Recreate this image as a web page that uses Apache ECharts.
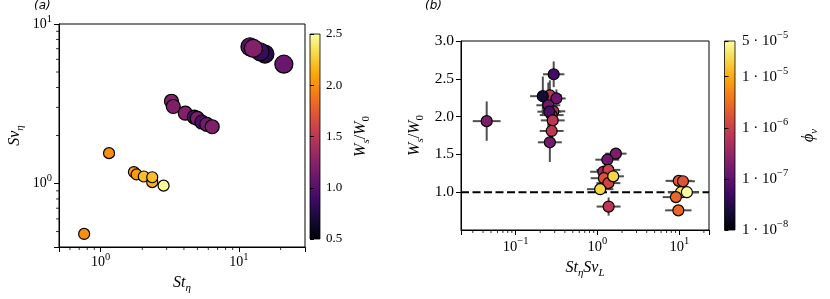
<!DOCTYPE html>
<html><head><meta charset="utf-8">
<script src="https://cdn.jsdelivr.net/npm/echarts@6/dist/echarts.min.js"></script>
<style>html,body{margin:0;padding:0;background:#fff}#c{width:830px;height:299px}</style>
</head><body><div id="c"></div>
<script>
// ---------- Panel (a) data ----------
const stA = [0.76, 1.15, 1.74, 1.82, 2.05, 2.36, 2.36, 2.85, 3.25, 3.35, 4.09, 4.75, 5.0, 5.39, 5.85, 6.4, 12.0, 15.4, 14.2, 12.7, 21.1];
const svA = [0.483, 1.55, 1.18, 1.14, 1.107, 1.02, 1.095, 0.97, 3.28, 3.04, 2.76, 2.61, 2.56, 2.43, 2.35, 2.27, 7.2, 6.48, 6.7, 7.03, 5.6];
const wA  = [2.0, 2.0, 2.05, 2.05, 2.2, 2.15, 2.2, 2.47, 1.22, 1.2, 1.22, 0.95, 1.2, 0.95, 1.15, 1.2, 1.0, 0.78, 0.86, 1.22, 1.1];
const sizeA = [11, 11, 11, 11, 11, 11, 11, 11, 14, 14, 14, 14, 14, 14, 14, 14, 18, 18, 18, 18, 18];

// ---------- Panel (b) data ----------
const xB   = [0.0443, 0.262, 0.215, 0.292, 0.315, 0.251, 0.289, 0.276, 0.258, 0.284, 0.276, 0.262,
              1.68, 1.32, 1.18, 1.36, 1.2, 1.36, 1.56, 1.08, 1.37,
              10.5, 12.4, 9.1, 9.86, 11.1, 9.75];
const wB   = [1.94, 2.28, 2.27, 2.56, 2.24, 2.15, 2.07, 2.02, 2.065, 1.95, 1.81, 1.66,
              1.51, 1.43, 1.27, 1.295, 1.185, 1.12, 1.21, 1.04, 0.81,
              1.0, 1.0, 0.935, 1.15, 1.145, 0.76];
const phiB = [1.9e-7, 7e-7, 2.3e-8, 5.5e-8, 1.3e-7, 1.5e-7, 5.5e-7, 4.5e-7, 6.5e-8, 7e-7, 7e-7, 1.6e-7,
              1.9e-7, 1.5e-7, 3.5e-7, 1.1e-6, 1.7e-6, 1.1e-6, 2.1e-5, 2.1e-5, 7e-7,
              2.7e-5, 5e-5, 2.7e-6, 2e-6, 1.7e-6, 2.7e-6];
const xErrFactorB = [1.48, 1.4, 1.43, 1.35, 1.3, 1.4, 1.4, 1.4, 1.4, 1.4, 1.4, 1.4,
              1.35, 1.4, 1.45, 1.4, 1.45, 1.4, 1.35, 1.45, 1.4,
              1.45, 1.4, 1.45, 1.45, 1.4, 1.45];
const yErrB = [0.26, 0.2, 0.26, 0.17, 0.12, 0.3, 0.1, 0.1, 0.15, 0.1, 0.1, 0.26,
              0.05, 0.07, 0.08, 0.06, 0.08, 0.06, 0.05, 0.06, 0.12,
              0.04, 0.04, 0.04, 0.04, 0.04, 0.04];
const refLineW = 1.0;

// ---------- axis ranges / ticks ----------
const xRangeA = [0.5, 30], yRangeA = [0.4, 10];
const xRangeB = [0.0215, 23.1], yRangeB = [0.5, 3.0];
const cbRangeA = [0.5, 2.5];
const cbRangeB = [1e-8, 5e-5];
const minorXA = [0.6, 0.7, 0.8, 0.9, 2, 3, 4, 5, 6, 7, 8, 9, 20];
const minorYA = [0.5, 0.6, 0.7, 0.8, 0.9, 2, 3, 4, 5, 6, 7, 8, 9];
const minorXB = [0.03, 0.04, 0.05, 0.06, 0.07, 0.08, 0.09, 0.2, 0.3, 0.4, 0.5, 0.6, 0.7, 0.8, 0.9, 2, 3, 4, 5, 6, 7, 8, 9, 20];

const inferno = ['#000004','#160b39','#420a68','#6a176e','#932667','#bc3754','#dd513a','#f37819','#fca50a','#f6d746','#fcffa4'];
const SERIF = '"Liberation Serif", "DejaVu Serif", serif';
const errColor = '#4f4f4f';

function supRich(fs, ps) {
  return {
    b: {fontFamily: SERIF, fontSize: fs, lineHeight: fs + 7, color: '#000'},
    p: {fontFamily: SERIF, fontSize: ps, lineHeight: ps + 1, verticalAlign: 'top', color: '#000'}
  };
}
function mathRich(fs) {
  return {
    i: {fontFamily: SERIF, fontStyle: 'italic', fontSize: fs, lineHeight: fs + 6, color: '#000'},
    r: {fontFamily: SERIF, fontSize: fs, lineHeight: fs + 6, color: '#000'},
    s: {fontFamily: SERIF, fontStyle: 'italic', fontSize: Math.round(fs * 0.7), lineHeight: Math.round(fs * 0.7) + 1, verticalAlign: 'bottom', color: '#000'},
    s0: {fontFamily: SERIF, fontSize: Math.round(fs * 0.7), lineHeight: Math.round(fs * 0.7) + 1, verticalAlign: 'bottom', color: '#000'}
  };
}
function pow10Label(v) {
  const e = Math.log10(v);
  const re = Math.round(e);
  if (Math.abs(e - re) > 1e-6) return '';
  return '{b|10}{p|' + (re < 0 ? '\u2212' : '') + Math.abs(re) + '}';
}
function sciLabel(v) {
  const e = Math.floor(Math.log10(v) + 1e-9);
  const m = Math.round(v / Math.pow(10, e));
  return '{b|' + m + ' \u00B7 10}{p|' + (e < 0 ? '\u2212' : '') + Math.abs(e) + '}';
}

const axisLineStyle = {show: true, lineStyle: {color: '#000', width: 1}};
const majorTick = {show: true, length: 5, lineStyle: {color: '#000', width: 1}};

function minorTickSeries(values, axisIdx, dir, fixedVal) {
  return {
    type: 'custom', xAxisIndex: axisIdx, yAxisIndex: axisIdx, silent: true, z: 1,
    data: values.map(v => dir === 'x' ? [v, fixedVal] : [fixedVal, v]),
    renderItem: (params, api) => {
      const p = api.coord([api.value(0), api.value(1)]);
      if (dir === 'x') return {type: 'line', shape: {x1: p[0], y1: p[1], x2: p[0], y2: p[1] + 3}, style: {stroke: '#000', lineWidth: 0.8}};
      return {type: 'line', shape: {x1: p[0], y1: p[1], x2: p[0] - 3, y2: p[1]}, style: {stroke: '#000', lineWidth: 0.8}};
    }
  };
}

const gradA = {type: 'linear', x: 0, y: 0, x2: 0, y2: 1,
  colorStops: inferno.slice().reverse().map((c, i) => ({offset: i / (inferno.length - 1), color: c}))};

const chart = echarts.init(document.getElementById('c'), null, {renderer: 'canvas'});
chart.setOption({
  animation: false,
  backgroundColor: '#fff',
  grid: [
    {left: 59, top: 24, width: 246, height: 223, show: true, borderColor: '#000', borderWidth: 1, backgroundColor: 'transparent'},
    {left: 461, top: 41, width: 248, height: 189, show: true, borderColor: '#000', borderWidth: 1, backgroundColor: 'transparent'},
    {left: 310, top: 34, width: 10, height: 205, show: true, borderColor: '#000', borderWidth: 0.8, backgroundColor: gradA},
    {left: 724.5, top: 41, width: 10.5, height: 189, show: true, borderColor: '#000', borderWidth: 0.8, backgroundColor: gradA}
  ],
  visualMap: [
    {show: false, type: 'continuous', seriesIndex: 0, dimension: 2, min: cbRangeA[0], max: cbRangeA[1], inRange: {color: inferno}},
    {show: false, type: 'continuous', seriesIndex: 2, dimension: 2, min: Math.log10(cbRangeB[0]), max: Math.log10(cbRangeB[1]), inRange: {color: inferno}}
  ],
  xAxis: [
    {gridIndex: 0, type: 'log', min: xRangeA[0], max: xRangeA[1], axisLine: axisLineStyle, axisTick: majorTick, splitLine: {show: false},
     axisLabel: {formatter: pow10Label, rich: supRich(14, 10.5), margin: 5},
     name: '{i|St}{s|\u03B7}', nameLocation: 'middle', nameGap: 25, nameTextStyle: {rich: mathRich(16)}},
    {gridIndex: 1, type: 'log', min: xRangeB[0], max: xRangeB[1], axisLine: axisLineStyle, axisTick: majorTick, splitLine: {show: false},
     axisLabel: {formatter: pow10Label, rich: supRich(14.5, 10.5), margin: 6},
     name: '{i|St}{s|\u03B7}{i|Sv}{s|L}', nameLocation: 'middle', nameGap: 27, nameTextStyle: {rich: mathRich(16)}},
    {gridIndex: 2, type: 'value', min: 0, max: 1, show: false},
    {gridIndex: 3, type: 'value', min: 0, max: 1, show: false}
  ],
  yAxis: [
    {gridIndex: 0, type: 'log', min: yRangeA[0], max: yRangeA[1], axisLine: axisLineStyle, axisTick: majorTick, splitLine: {show: false},
     axisLabel: {formatter: pow10Label, rich: supRich(14, 10.5), margin: 7},
     name: '{i|Sv}{s|\u03B7}', nameLocation: 'middle', nameGap: 33, nameRotate: 90, nameTextStyle: {rich: mathRich(16)}},
    {gridIndex: 1, type: 'value', min: yRangeB[0], max: yRangeB[1], interval: 0.5, axisLine: axisLineStyle, axisTick: majorTick, splitLine: {show: false},
     axisLabel: {formatter: v => v.toFixed(1), fontFamily: SERIF, fontSize: 15.5, color: '#000', margin: 7, showMinLabel: false},
     name: '{i|W}{s|s}{r|/}{i|W}{s0|0}', nameLocation: 'middle', nameGap: 35, nameRotate: 90, nameTextStyle: {rich: mathRich(16)}},
    {gridIndex: 2, type: 'value', position: 'right', min: cbRangeA[0], max: cbRangeA[1], interval: 0.5, axisLine: {show: false},
     axisTick: {show: true, length: 4, lineStyle: {color: '#000', width: 1}}, splitLine: {show: false},
     axisLabel: {formatter: v => v.toFixed(1), fontFamily: SERIF, fontSize: 13, color: '#000', margin: 6},
     name: '{i|W}{s|s}{r|/}{i|W}{s0|0}', nameLocation: 'middle', nameGap: 30, nameRotate: 90, nameTextStyle: {rich: mathRich(16)}},
    {gridIndex: 3, type: 'log', position: 'right', min: cbRangeB[0], max: cbRangeB[1], axisLine: {show: false},
     axisTick: {show: true, length: 4, lineStyle: {color: '#000', width: 1}}, splitLine: {show: false},
     axisLabel: {formatter: sciLabel, rich: supRich(15, 10.5), margin: 7},
     name: '{i|\u03D5}{s|v}', nameLocation: 'middle', nameGap: 63, nameRotate: 90, nameTextStyle: {rich: mathRich(16)}}
  ],
  graphic: [
    {type: 'text', left: 34, top: 0, style: {text: '(a)', font: 'italic 12px "DejaVu Sans"', fill: '#000'}},
    {type: 'text', left: 425, top: 0, style: {text: '(b)', font: 'italic 12px "DejaVu Sans"', fill: '#000'}}
  ],
  series: [
    {type: 'scatter', xAxisIndex: 0, yAxisIndex: 0, z: 5,
     data: stA.map((s, i) => [s, svA[i], wA[i]]),
     symbolSize: (val, p) => sizeA[p.dataIndex],
     itemStyle: {borderColor: '#000', borderWidth: 1.2, opacity: 1}},
    {type: 'custom', xAxisIndex: 1, yAxisIndex: 1, z: 3, silent: true,
     data: xB.map((x, i) => [x, wB[i], x / xErrFactorB[i], x * xErrFactorB[i], wB[i] - yErrB[i], wB[i] + yErrB[i]]),
     encode: {x: 0, y: 1},
     renderItem: (params, api) => {
       const c = api.coord([api.value(0), api.value(1)]);
       const l = api.coord([api.value(2), api.value(1)]);
       const r = api.coord([api.value(3), api.value(1)]);
       const b = api.coord([api.value(0), api.value(4)]);
       const t = api.coord([api.value(0), api.value(5)]);
       return {type: 'group', children: [
         {type: 'line', shape: {x1: l[0], y1: c[1], x2: r[0], y2: c[1]}, style: {stroke: errColor, lineWidth: 2}},
         {type: 'line', shape: {x1: c[0], y1: b[1], x2: c[0], y2: t[1]}, style: {stroke: errColor, lineWidth: 2}}
       ]};
     }},
    {type: 'scatter', xAxisIndex: 1, yAxisIndex: 1, z: 5,
     data: xB.map((x, i) => [x, wB[i], Math.log10(phiB[i])]),
     symbolSize: 11,
     itemStyle: {borderColor: '#000', borderWidth: 1.2, opacity: 1}},
    {type: 'line', xAxisIndex: 1, yAxisIndex: 1, z: 2, silent: true, symbol: 'none',
     data: [[xRangeB[0], refLineW], [xRangeB[1], refLineW]],
     lineStyle: {color: '#000', width: 2, type: [8, 3.5]}},
    minorTickSeries(minorXA, 0, 'x', yRangeA[0]),
    minorTickSeries(minorYA, 0, 'y', xRangeA[0]),
    minorTickSeries(minorXB, 1, 'x', yRangeB[0])
  ]
});
</script></body></html>
